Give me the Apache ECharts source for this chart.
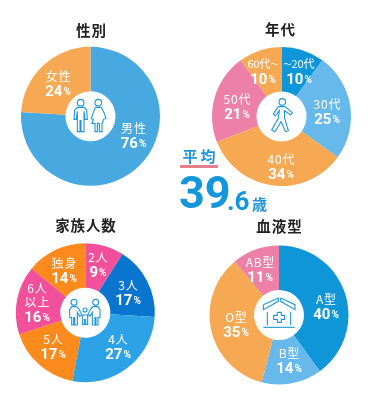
<!DOCTYPE html>
<html><head><meta charset="utf-8">
<style>html,body{margin:0;padding:0;background:#fff}#c{width:368px;height:402px}</style>
<script src="https://cdn.jsdelivr.net/npm/echarts@6/dist/echarts.min.js"></script>
</head><body><div id="c"></div>
<script>
// Data
const genderNames = ['男性','女性'];
const genderValues = [76,24];
const ageNames = ['～20代','30代','40代','50代','60代～'];
const ageValues = [10,25,34,21,10];
const familyNames = ['2人','3人','4人','5人','6人\n以上','独身'];
const familyValues = [9,17,27,17,16,14];
const bloodNames = ['A型','B型','O型','AB型'];
const bloodValues = [40,14,35,11];
const titles = ['性別','年代','家族人数','血液型'];
const averageAge = ['39','.6','歳'];

// Styles and layout
const F = '"Noto Sans CJK JP","Noto Sans",sans-serif';
const N = 'Roboto,"Noto Sans CJK JP",sans-serif';
const BLUE='#48A9E0', O1='#F6A952', B2='#0E96D8', B3='#66B9EA', P1='#EC80A6';
const pies = [
 {names:genderNames, values:genderValues, c:[90.5,116.3], colors:[BLUE,O1],
  pos:[[133.5,137],[58,85]], title:[91,30]},
 {names:ageNames, values:ageValues, c:[281.5,116.5], colors:[B2,B3,O1,P1,O1],
  pos:[[299,73],[327,113],[281,168],[237,108],[263,73]], title:[280,29]},
 {names:familyNames, values:familyValues, c:[85.3,312.7], colors:['#F2509A','#0A75CE','#2DA2E6','#FC8A1C','#F2509A','#FC8A1C'],
  pos:[[98,266],[128,294],[118,348],[53,348],[37,304],[64,272]], title:[85.5,225]},
 {names:bloodNames, values:bloodValues, c:[279,315], colors:[B2,B3,O1,P1],
  pos:[[326,308],[289,362],[236,326],[260,271]], title:[279,226.5]}
];

const nameText=t=>{
  if(t.includes('～')) return t.split('～').map(s=>s?'{m|'+s+'}':'').join('{t|～}');
  return '{n|'+Array.from(t).join('\u200a')+'}';
};
const series = pies.map((p,si)=>({
  type:'pie', center:p.c, radius:[25,69.5], startAngle:90, clockwise:true, silent:true, animation:false,
  data:p.names.map((n,i)=>({name:n,value:p.values[i],itemStyle:{color:p.colors[i]}})),
  labelLine:{show:false},
  label:{position:'inside',color:'#fff',formatter:o=>{
      const parts=String(o.name).split('\n').map(nameText).join('\n');
      return parts+'\n{p|'+o.value+'}{s|\u200a%}';
    },
    rich:{
      n:{fontFamily:F,fontSize:12,color:'#fff',lineHeight:14,fontWeight:'normal'},
      m:{fontFamily:F,fontSize:11,color:'#fff',lineHeight:14,fontWeight:'normal'},
      t:{fontFamily:F,fontSize:8,color:'#fff',lineHeight:14,fontWeight:'normal'},
      p:{fontFamily:N,fontSize:15,fontWeight:'bold',color:'#fff',lineHeight:18},
      s:{fontFamily:N,fontSize:10,fontWeight:'bold',color:'#fff',lineHeight:18}
    }},
  labelLayout:o=>({x:p.pos[o.dataIndex][0],y:p.pos[o.dataIndex][1],align:'center',verticalAlign:'middle'})
}));

// Icon drawing helpers: points in 3x-crop coordinates from an origin
const IC='#1E96DC';
const lineStyle={stroke:IC,lineWidth:1.1,fill:'none'};
const poly=(o,pts,stroke)=>({type:'polyline',silent:true,z:10,shape:{points:pts.map(q=>[o[0]+q[0]/3,o[1]+q[1]/3])},style:{stroke:stroke||IC,lineWidth:1.1,fill:'none'}});
const circ=(o,x,y,r)=>({type:'circle',silent:true,z:10,shape:{cx:o[0]+x/3,cy:o[1]+y/3,r:r/3},style:lineStyle});
const o1=[60,90],o2=[250,90],o3=[55,285],o4=[250,288];
const icons=[
 // man
 circ(o1,62,38,10),
 poly(o1,[[52,52],[72,52],[80,60],[82,88],[75,88],[72,64],[72,125],[63,125],[63,92],[60,92],[60,125],[52,125],[52,64],[49,88],[42,88],[44,60],[52,52]]),
 // woman
 circ(o1,115,38,10),
 poly(o1,[[106,52],[124,52],[132,68],[138,86],[130,88],[128,98],[126,100],[126,125],[118,125],[118,100],[112,100],[112,125],[105,125],[105,100],[96,100],[100,88],[94,86],[100,68],[106,52]]),
 // walker
 circ(o2,97,36,10),
 poly(o2,[[85,50],[70,72],[76,78],[88,62],[85,85],[65,120],[75,125],[93,95],[107,125],[115,122],[104,85],[103,62],[122,75],[127,68],[105,50],[85,50]]),
 // family
 circ(o3,57,52,9), circ(o3,122,52,9), circ(o3,90,75,6),
 poly(o3,[[44,98],[44,74],[50,65],[65,65],[72,72],[80,88],[74,94],[67,82],[67,120],[59,120],[59,98],[56,98],[56,120],[50,120],[50,98],[44,98]]),
 poly(o3,[[135,98],[135,74],[129,65],[114,65],[107,72],[99,88],[105,94],[112,82],[112,120],[120,120],[120,98],[123,98],[123,120],[129,120],[129,98],[135,98]]),
 poly(o3,[[82,90],[98,90],[98,118],[92,118],[92,104],[88,104],[88,118],[82,118],[82,90]]),
 // hospital
 poly(o4,[[40,50],[85,30],[85,40],[40,65],[40,50]]),
 poly(o4,[[92,30],[135,50],[135,65],[92,40],[92,30]]),
 poly(o4,[[52,72],[52,112]]), poly(o4,[[122,72],[122,112]]), poly(o4,[[40,118],[134,118]]),
 poly(o4,[[82,73],[94,73],[94,82],[104,82],[104,94],[94,94],[94,103],[82,103],[82,94],[71,94],[71,82],[82,82],[82,73]])
];

const chart=echarts.init(document.getElementById('c'),null,{renderer:'canvas'});
chart.setOption({
  backgroundColor:'#fff', animation:false,
  series,
  graphic:{elements:[
    ...pies.map((p,i)=>({type:'text',silent:true,x:p.title[0],y:p.title[1],style:{
      text:Array.from(titles[i]).join('\u200a'),fontFamily:F,fontSize:14.5,fontWeight:'bold',fill:'#222',align:'center',verticalAlign:'middle'}})),
    {type:'text',silent:true,x:199,y:156.5,style:{text:'平\u2009均',fontFamily:F,fontSize:15,fontWeight:'bold',fill:'#1E96DC',align:'center',verticalAlign:'middle'}},
    {type:'rect',silent:true,shape:{x:180,y:165,width:38,height:3},style:{fill:'#E5808A'}},
    {type:'text',silent:true,x:179,y:219,style:{text:averageAge[0],fontFamily:N,fontSize:45,fontWeight:'bold',fill:'#1296DC',align:'left',verticalAlign:'bottom'}},
    {type:'text',silent:true,x:227,y:217,style:{text:averageAge[1],fontFamily:N,fontSize:26,fontWeight:'bold',fill:'#1296DC',align:'left',verticalAlign:'bottom'}},
    {type:'text',silent:true,x:252,y:212,style:{text:averageAge[2],fontFamily:F,fontSize:15,fontWeight:'bold',fill:'#1E96DC',align:'left',verticalAlign:'bottom'}},
    ...icons
  ]}
});
</script></body></html>
